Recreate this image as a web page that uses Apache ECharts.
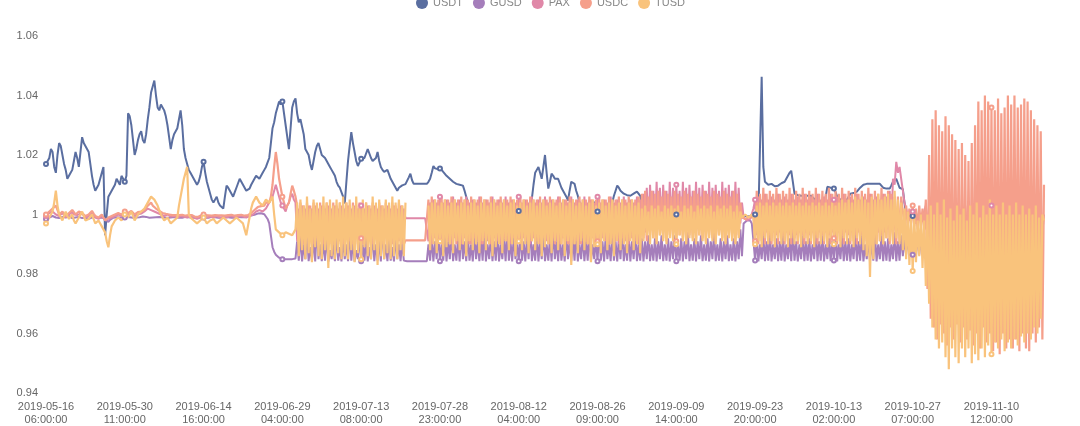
<!DOCTYPE html>
<html>
<head>
<meta charset="utf-8">
<script src="https://cdn.jsdelivr.net/npm/echarts@6/dist/echarts.min.js"></script>
<style>html,body{margin:0;padding:0;background:#fff;}#c{width:1080px;height:426px;}</style>
</head>
<body>
<div id="c"></div>
<script>
// x-axis tick labels (one every 48 sampled points)
const tickLabels = ['2019-05-16 06:00:00','2019-05-30 11:00:00','2019-06-14 16:00:00','2019-06-29 04:00:00','2019-07-13 08:00:00','2019-07-28 23:00:00','2019-08-12 04:00:00','2019-08-26 09:00:00','2019-09-09 14:00:00','2019-09-23 20:00:00','2019-10-13 02:00:00','2019-10-27 07:00:00','2019-11-10 12:00:00'];
const seriesNames = ['USDT','GUSD','PAX','USDC','TUSD'];

const usdt = [
1.017,1.018,1.019,1.022,1.021,1.016,1.014,1.020,1.024,1.023,
1.020,1.017,1.015,1.012,1.013,1.014,1.015,1.018,1.021,1.019,
1.016,1.021,1.026,1.024,1.023,1.022,1.021,1.017,1.013,1.010,
1.008,1.009,1.010,1.012,1.014,1.016,0.993,1.000,1.006,1.007,
1.008,1.009,1.010,1.012,1.011,1.010,1.013,1.012,1.011,1.013,
1.034,1.033,1.030,1.025,1.020,1.022,1.025,1.027,1.028,1.025,
1.024,1.027,1.032,1.036,1.041,1.043,1.045,1.040,1.036,1.035,
1.037,1.036,1.035,1.033,1.030,1.026,1.022,1.025,1.027,1.028,
1.029,1.032,1.035,1.030,1.022,1.019,1.017,1.015,1.014,1.013,
1.012,1.011,1.010,1.011,1.013,1.016,1.0177,1.014,1.011,1.009,
1.007,1.005,1.004,1.005,1.006,1.004,1.003,1.0025,1.002,1.006,
1.0097,1.009,1.008,1.007,1.006,1.0075,1.009,1.0105,1.012,1.011,
1.010,1.009,1.008,1.0083,1.0087,1.010,1.011,1.012,1.013,1.0125,
1.012,1.013,1.014,1.015,1.016,1.0175,1.019,1.024,1.029,1.031,
1.034,1.036,1.038,1.037,1.038,1.034,1.030,1.026,1.022,1.029,
1.036,1.038,1.039,1.034,1.031,1.032,1.032,1.027,1.022,1.021,
1.020,1.017,1.015,1.018,1.021,1.023,1.024,1.022,1.020,1.0195,
1.019,1.018,1.017,1.016,1.015,1.014,1.013,1.011,1.0097,1.009,
1.0087,1.006,1.0037,1.011,1.018,1.023,1.0277,1.024,1.021,1.018,
1.0163,1.0175,1.0187,1.0188,1.019,1.0205,1.022,1.0205,1.019,1.018,
1.0177,1.019,1.021,1.018,1.016,1.015,1.0143,1.0147,1.015,1.0135,
1.012,1.011,1.010,1.009,1.008,1.009,1.0095,1.0098,1.010,1.0102,
1.0103,1.0125,1.0137,1.0115,1.0103,1.0103,1.0103,1.0103,1.0103,1.0103,
1.0103,1.0103,1.0103,1.011,1.012,1.014,1.0163,1.0155,1.015,1.0152,
1.0155,1.015,1.0143,1.0137,1.013,1.0125,1.012,1.0115,1.011,1.0107,
1.0103,1.0102,1.010,1.0098,1.0097,1.008,1.006,1.004,1.0027,1.002,
1.001,1.0015,1.002,1.0018,1.0015,1.0012,1.001,1.0015,1.002,1.0016,
1.0012,1.0015,1.0018,1.0014,1.001,1.0012,1.0015,1.0018,1.002,1.0015,
1.001,1.0012,1.0015,1.0018,1.002,1.0015,1.001,1.0011,1.0012,1.0015,
1.0018,1.0014,1.001,1.0016,1.0025,1.004,1.0053,1.010,1.014,1.015,
1.016,1.014,1.012,1.016,1.020,1.014,1.0087,1.011,1.0137,1.013,
1.012,1.012,1.012,1.0105,1.009,1.008,1.007,1.006,1.0047,1.008,
1.011,1.0107,1.0103,1.008,1.0063,1.004,1.001,1.0005,1.0,1.0003,
1.0005,1.0002,1.0,1.002,1.0043,1.0025,1.001,1.001,1.001,1.0011,
1.0012,1.001,1.001,1.0012,1.0015,1.004,1.0063,1.008,1.0097,1.009,
1.008,1.0075,1.007,1.0068,1.0065,1.0064,1.0063,1.0066,1.007,1.0073,
1.0077,1.007,1.0063,1.003,1.0003,1.0,1.0,1.0002,1.0005,1.0,
1.0,0.9998,0.9998,1.0,1.0002,1.0,1.0,1.0003,1.0005,1.0,
1.0,0.9998,0.9998,1.0,1.0,1.0002,1.0003,1.0,1.0,0.9998,
0.9997,1.0,1.0,1.0002,1.0002,1.0,1.0,1.0,1.0,1.0002,
1.0003,1.0,1.0,0.9998,0.9998,1.0,1.0,1.0002,1.0002,1.0,
1.0,1.0,1.0,0.9998,0.9998,1.0,1.0,1.0002,1.0003,1.0,
1.0,1.0,1.0,1.0,1.0,0.9998,0.9995,0.9994,0.9993,0.9995,
0.9997,1.0,1.0,1.0,1.0,1.0,1.0463,1.016,1.011,1.0105,
1.010,1.0101,1.0103,1.0099,1.0095,1.0096,1.0097,1.0101,1.0105,1.0107,
1.011,1.012,1.013,1.014,1.0147,1.011,1.007,1.0067,1.0065,1.0064,
1.0063,1.0063,1.0063,1.0063,1.0063,1.0063,1.0063,1.0058,1.0053,1.004,
1.003,1.003,1.003,1.003,1.003,1.006,1.0093,1.0091,1.009,1.0088,
1.0087,1.0075,1.006,1.0055,1.005,1.005,1.005,1.005,1.005,1.006,
1.007,1.0071,1.0072,1.0075,1.0077,1.0083,1.009,1.0095,1.010,1.0102,
1.0103,1.0103,1.0103,1.0103,1.0103,1.0103,1.0103,1.0103,1.0103,1.0097,
1.009,1.0088,1.0087,1.0087,1.0087,1.0098,1.011,1.0115,1.012,1.0105,
1.009,1.0088,1.0085,1.004,1.0,1.0,1.0,1.0,0.9995,0.9998,
1.0,0.9995,0.9995,1.0,1.0,1.0,null,null,null,null,
null,null,null,null,null,null,null,null,null,null,
null,null,null,null,null,null,null,null,null,null,
null,null,null,null,null,null,null,null,null,null,
null,null,null,null,null,null,null,null,null,null,
null,null,null,null,null,null,null,null,null,null,
null,null,null,null,null,null,null,null,null,null,
null,null,null,null,null,null,null,null,null
];

const gusd = [
0.9985,0.9988,0.999,0.9993,0.9995,0.9992,0.999,0.9989,0.9988,0.999,
0.9992,0.9991,0.999,0.9993,0.9995,0.9991,0.9988,0.9989,0.999,0.9991,
0.9992,0.999,0.9988,0.9989,0.999,0.9987,0.9985,0.9988,0.999,0.9991,
0.9992,0.999,0.9988,0.9989,0.999,0.9987,0.9985,0.998,0.9975,0.9982,
0.9988,0.9989,0.999,0.9991,0.9992,0.999,0.9988,0.9989,0.999,0.9992,
0.9993,0.9991,0.999,0.9989,0.9988,0.999,0.9992,0.9991,0.999,0.9993,
0.9995,0.9992,0.999,0.9989,0.9988,0.999,0.9992,0.9991,0.999,0.9992,
0.9993,0.9991,0.999,0.9989,0.9988,0.9989,0.999,0.9991,0.9992,0.9991,
0.999,0.9989,0.9988,0.9989,0.999,0.9992,0.9993,0.9991,0.999,0.9989,
0.9988,0.9989,0.999,0.9991,0.9992,0.9991,0.999,0.9989,0.9988,0.9989,
0.999,0.9992,0.9993,0.9991,0.999,0.9989,0.9988,0.9989,0.999,0.9991,
0.9992,0.9991,0.999,0.9989,0.9988,0.9989,0.999,0.9992,0.9993,0.9991,
0.999,0.9991,0.9992,0.9994,0.9995,0.9997,0.9998,0.9999,1.0,1.0003,
1.0005,1.0004,1.0003,1.0001,1.0,0.9985,0.997,0.993,0.989,0.9875,
0.9865,0.986,0.9855,0.9852,0.985,0.985,0.985,0.985,0.985,0.985,
0.985,0.985,0.9852,0.991,0.9845,0.993,0.9842,0.990,0.985,0.994,
0.9843,0.989,0.9845,0.992,0.9842,0.996,0.985,0.990,0.9843,0.991,
0.9845,0.993,0.9842,0.988,0.985,0.990,0.9843,0.994,0.9845,0.989,
0.9842,0.992,0.985,0.990,0.9843,0.995,0.9845,0.991,0.9842,0.988,
0.985,0.993,0.9843,0.990,0.9845,0.992,0.9842,0.989,0.985,0.994,
0.9843,0.990,0.9845,0.991,0.9842,0.997,0.985,0.990,0.9843,0.992,
0.9845,0.989,0.9842,0.993,0.985,0.990,0.9843,0.991,0.9845,0.9843,
0.9843,0.9843,0.9843,0.9843,0.9843,0.9843,0.9843,0.9843,0.9843,0.9843,
0.9843,0.9843,0.9843,0.990,0.9845,0.992,0.9842,0.991,0.985,0.994,
0.9843,0.990,0.9845,0.993,0.9842,0.991,0.985,0.994,0.9843,0.990,
0.9845,0.992,0.9842,0.995,0.985,0.991,0.9843,0.993,0.9845,0.990,
0.9842,0.994,0.985,0.991,0.9843,0.992,0.9845,0.995,0.9842,0.990,
0.985,0.993,0.9843,0.991,0.9845,0.994,0.9842,0.990,0.985,0.992,
0.9843,0.995,0.9845,0.991,0.9842,0.993,0.985,0.990,0.9843,0.994,
0.9845,0.991,0.9842,0.992,0.985,0.996,0.9843,0.990,0.9845,0.993,
0.9842,0.991,0.985,0.994,0.9843,0.990,0.9845,0.992,0.9842,0.995,
0.985,0.991,0.9843,0.993,0.9845,0.990,0.9842,0.994,0.985,0.991,
0.9843,0.992,0.9845,0.995,0.9842,0.990,0.985,0.993,0.9843,0.991,
0.9845,0.994,0.9842,0.990,0.985,0.992,0.9843,0.995,0.9845,0.991,
0.9842,0.993,0.985,0.990,0.9843,0.994,0.9845,0.991,0.9842,0.992,
0.985,0.995,0.9843,0.990,0.9845,0.993,0.9842,0.991,0.985,0.994,
0.9843,0.990,0.9845,0.992,0.9842,0.991,0.985,0.993,0.9843,0.990,
0.9845,0.992,0.9842,0.991,0.985,0.993,0.9843,0.990,0.9845,0.992,
0.9842,0.991,0.985,0.993,0.9843,0.990,0.9845,0.992,0.9842,0.991,
0.985,0.994,0.9843,0.990,0.9845,0.992,0.9842,0.991,0.985,0.993,
0.9843,0.990,0.9845,0.992,0.9842,0.991,0.985,0.994,0.9843,0.990,
0.9845,0.992,0.9842,0.991,0.985,0.993,0.9843,0.990,0.9845,0.992,
0.9842,0.991,0.985,0.995,0.986,0.997,0.9975,0.998,0.9985,0.998,
0.997,0.991,0.9845,0.992,0.9842,0.990,0.985,0.993,0.9843,0.991,
0.9845,0.994,0.9842,0.990,0.985,0.992,0.9843,0.991,0.9845,0.993,
0.9842,0.990,0.985,0.992,0.9843,0.994,0.9845,0.991,0.9842,0.990,
0.985,0.993,0.9843,0.991,0.9845,0.992,0.9842,0.990,0.985,0.994,
0.9843,0.991,0.9845,0.993,0.9842,0.990,0.985,0.992,0.9843,0.991,
0.9845,0.994,0.9842,0.990,0.985,0.993,0.9843,0.991,0.9845,0.992,
0.9842,0.990,0.985,0.994,0.9843,0.991,0.9845,0.993,0.9842,0.990,
0.985,0.992,0.9843,0.991,0.9845,0.994,0.9842,0.990,0.985,0.993,
0.9843,0.991,0.9845,0.992,0.9842,0.990,0.985,0.994,0.9843,0.991,
0.9845,0.993,0.986,0.992,0.9865,0.993,0.986,0.992,0.9865,0.991,
0.986,0.993,0.9865,0.992,0.987,0.991,null,null,null,null,
null,null,null,null,null,null,null,null,null,null,
null,null,null,null,null,null,null,null,null,null,
null,null,null,null,null,null,null,null,null,null,
null,null,null,null,null,null,null,null,null,null,
null,null,null,null,null,null,null,null,null,null,
null,null,null,null,null,null,null,null,null,null,
null,null,null,null,null,null,null,null,null
];

const pax = [
0.9995,1.0,1.0005,1.0008,1.001,1.0005,1.0,0.9998,0.9995,1.0,
1.0005,0.9998,0.999,0.9995,1.0,1.0004,1.0008,1.0,0.9995,0.9998,
1.0,1.0003,1.0005,0.9998,0.999,0.9993,0.9995,0.9999,1.0003,0.9997,
0.999,0.9988,0.9985,0.999,0.9995,0.9988,0.998,0.9982,0.9985,0.9988,
0.999,0.9993,0.9995,0.9998,1.0,0.9998,0.9995,1.0,1.0005,1.0003,
1.0,1.0004,1.0008,1.0002,0.9995,0.9998,1.0,1.0002,1.0003,1.0006,
1.001,1.0015,1.002,1.0018,1.0015,1.0012,1.001,1.0008,1.0005,1.0002,
1.0,0.9998,0.9995,0.9998,1.0,0.9996,0.9993,0.9994,0.9995,0.9993,
0.999,0.9993,0.9995,0.9994,0.9992,0.9991,0.999,0.9993,0.9995,0.9992,
0.999,0.9988,0.9985,0.9988,0.999,0.9993,0.9995,0.9992,0.999,0.9991,
0.9993,0.9991,0.999,0.9993,0.9995,0.9992,0.999,0.9991,0.9992,0.9991,
0.999,0.9993,0.9995,0.9994,0.9993,0.9991,0.999,0.9993,0.9995,0.9994,
0.9993,0.9991,0.999,0.9992,0.9995,0.9998,1.0,1.0005,1.001,1.0012,
1.0015,1.0012,1.001,1.0015,1.002,1.003,1.004,1.005,1.006,1.008,
1.010,1.008,1.006,1.004,1.003,1.002,1.001,1.003,1.004,1.006,
1.007,1.005,1.004,0.991,1.002,0.992,1.003,0.990,1.002,0.992,
1.003,0.991,1.002,0.990,1.003,0.992,1.002,0.991,1.003,0.990,
1.002,0.992,1.003,0.991,1.002,0.990,1.003,0.992,1.002,0.991,
1.003,0.990,1.002,0.992,1.003,0.991,1.002,0.990,1.003,0.992,
1.002,0.991,1.003,0.990,1.002,0.992,1.003,0.991,1.002,0.990,
1.003,0.992,1.002,0.991,1.003,0.990,1.002,0.992,1.003,0.991,
1.002,0.990,1.003,0.992,1.002,0.991,1.003,0.990,1.002,0.9987,
0.9987,0.9987,0.9987,0.9987,0.9987,0.9987,0.9987,0.9987,0.9987,0.9987,
0.9987,0.9987,0.9987,0.991,1.004,0.990,1.005,0.992,1.004,0.991,
1.006,0.990,1.004,0.992,1.005,0.991,1.004,0.990,1.006,0.992,
1.004,0.991,1.005,0.990,1.004,0.992,1.006,0.991,1.004,0.990,
1.005,0.992,1.004,0.991,1.006,0.990,1.004,0.992,1.005,0.991,
1.004,0.990,1.006,0.992,1.004,0.991,1.005,0.990,1.004,0.992,
1.006,0.991,1.004,0.990,1.005,0.992,1.004,0.991,1.006,0.990,
1.004,0.992,1.005,0.991,1.004,0.990,1.006,0.992,1.004,0.991,
1.005,0.990,1.004,0.992,1.006,0.991,1.004,0.990,1.005,0.992,
1.004,0.991,1.006,0.990,1.004,0.992,1.005,0.991,1.004,0.990,
1.006,0.992,1.004,0.991,1.005,0.990,1.004,0.992,1.006,0.991,
1.004,0.990,1.005,0.992,1.004,0.991,1.006,0.990,1.004,0.992,
1.005,0.991,1.004,0.990,1.006,0.992,1.004,0.991,1.005,0.990,
1.004,0.992,1.006,0.991,1.004,0.990,1.005,0.992,1.004,0.991,
1.006,0.990,1.005,0.995,1.007,0.994,1.009,0.995,1.010,0.996,
1.008,0.995,1.011,0.996,1.009,0.995,1.010,0.997,1.008,0.995,
1.011,0.996,1.009,0.995,1.010,0.997,1.008,0.995,1.011,0.996,
1.009,0.995,1.010,0.997,1.008,0.995,1.011,0.996,1.009,0.995,
1.010,0.997,1.008,0.995,1.011,0.996,1.009,0.995,1.010,0.997,
1.008,0.995,1.011,0.996,1.009,0.995,1.010,0.997,1.008,0.995,
1.011,0.996,1.009,0.997,1.004,0.999,0.9985,0.998,0.998,0.9985,
0.999,1.002,1.005,0.993,1.006,0.994,1.005,0.993,1.007,0.994,
1.005,0.993,1.006,0.994,1.005,0.993,1.007,0.994,1.005,0.993,
1.006,0.994,1.005,0.993,1.007,0.994,1.005,0.993,1.006,0.994,
1.005,0.993,1.007,0.994,1.005,0.993,1.006,0.994,1.005,0.993,
1.007,0.994,1.005,0.993,1.006,0.994,1.005,0.993,1.007,0.994,
1.005,0.993,1.006,0.994,1.005,0.993,1.007,0.994,1.005,0.993,
1.006,0.994,1.005,0.993,1.007,0.994,1.005,0.993,1.006,0.994,
1.005,0.993,1.007,0.994,1.005,0.993,1.006,0.994,1.005,0.993,
1.007,0.994,1.006,0.995,1.008,0.996,1.012,1.010,1.0177,1.014,
1.016,1.012,1.008,1.004,1.002,0.999,0.998,1.0,1.001,0.998,
0.997,1.0,1.0,0.999,0.998,1.001,1.003,0.993,1.003,0.993,
1.003,0.993,1.002,0.994,1.003,0.993,1.002,0.994,1.003,0.993,
1.002,0.994,1.003,0.993,1.002,0.994,1.003,0.993,1.002,0.994,
1.003,0.993,1.002,0.994,1.003,0.993,1.002,0.994,1.003,0.993,
1.002,0.994,1.003,0.993,1.002,0.994,1.003,0.993,1.002,0.994,
1.003,0.993,1.002,0.994,1.003,0.993,1.002,0.994,1.003,0.993,
1.002,0.994,1.003,0.993,1.002,0.994,1.003,0.993,1.002,0.994,
1.003,0.993,1.002,0.994,1.003,0.993,1.002,0.994,1.0
];

const usdc = [
1.0,1.0005,1.001,1.0015,1.002,1.0025,1.003,1.0015,1.0,1.0005,
1.001,1.0002,0.9995,1.0,1.0005,1.001,1.0015,1.0008,1.0,1.0005,
1.001,1.0008,1.0005,1.0,0.9995,0.9998,1.0,1.0006,1.0012,1.0003,
0.9995,0.9992,0.999,0.9995,1.0,0.999,0.998,0.9985,0.999,0.9993,
0.9995,0.9998,1.0,1.0003,1.0005,1.0002,1.0,1.0005,1.001,1.0008,
1.0005,1.0008,1.0012,1.0006,1.0,1.0004,1.0008,1.001,1.001,1.0012,
1.0015,1.002,1.003,1.0035,1.004,1.003,1.0025,1.002,1.0015,1.0012,
1.001,1.0005,1.0,1.0002,1.0005,1.0,0.9995,0.9998,1.0,0.9998,
0.9995,0.9998,1.0,0.9999,0.9998,0.9996,0.9995,0.9998,1.0,0.9998,
0.9995,0.9992,0.999,0.9993,0.9995,0.9998,1.0,0.9998,0.9995,0.9997,
0.9998,0.9996,0.9995,0.9998,1.0,0.9997,0.9995,0.9997,0.9998,0.9996,
0.9995,0.9998,1.0,0.9999,0.9998,0.9996,0.9995,0.9998,1.0,0.9999,
0.9998,0.9996,0.9995,0.9998,1.0,1.0005,1.001,1.0015,1.002,1.0025,
1.003,1.0028,1.0025,1.003,1.004,1.0042,1.004,1.006,1.010,1.016,
1.021,1.017,1.012,1.009,1.006,1.004,1.002,1.003,1.004,1.007,
1.0097,1.008,1.006,1.003,0.990,1.004,0.991,1.003,0.990,1.004,
0.992,1.003,0.990,1.004,0.991,1.003,0.990,1.004,0.992,1.003,
0.990,1.004,0.991,1.003,0.990,1.004,0.992,1.003,0.990,1.004,
0.991,1.003,0.990,1.004,0.992,1.003,0.990,1.004,0.991,1.003,
0.990,1.004,0.992,1.003,0.990,1.004,0.991,1.003,0.990,1.004,
0.992,1.003,0.990,1.004,0.991,1.003,0.990,1.004,0.992,1.003,
0.990,1.004,0.991,1.003,0.990,1.004,0.992,1.003,0.990,0.9913,
0.9913,0.9913,0.9913,0.9913,0.9913,0.9913,0.9913,0.9913,0.9913,0.9913,
0.9913,0.9913,0.9913,1.005,0.990,1.006,0.992,1.005,0.990,1.005,
0.991,1.006,0.990,1.005,0.992,1.005,0.990,1.006,0.991,1.005,
0.990,1.005,0.992,1.006,0.990,1.005,0.991,1.005,0.990,1.006,
0.992,1.005,0.990,1.005,0.991,1.006,0.990,1.005,0.992,1.005,
0.990,1.006,0.991,1.005,0.990,1.005,0.992,1.006,0.990,1.005,
0.991,1.005,0.990,1.006,0.992,1.005,0.990,1.005,0.991,1.006,
0.990,1.005,0.992,1.005,0.990,1.006,0.991,1.005,0.990,1.005,
0.992,1.006,0.990,1.005,0.991,1.005,0.990,1.006,0.992,1.005,
0.990,1.005,0.991,1.006,0.990,1.005,0.992,1.005,0.990,1.006,
0.991,1.005,0.990,1.005,0.992,1.006,0.990,1.005,0.991,1.005,
0.990,1.006,0.992,1.005,0.990,1.005,0.991,1.006,0.990,1.005,
0.992,1.005,0.990,1.006,0.991,1.005,0.990,1.005,0.992,1.006,
0.990,1.005,0.991,1.005,0.990,1.006,0.992,1.005,0.990,1.005,
0.991,1.006,0.990,1.007,0.992,1.008,0.991,1.006,0.993,1.008,
0.992,1.007,0.991,1.008,0.993,1.006,0.992,1.008,0.991,1.007,
0.993,1.006,0.992,1.008,0.991,1.007,0.993,1.006,0.992,1.008,
0.991,1.007,0.993,1.006,0.992,1.008,0.991,1.007,0.993,1.006,
0.992,1.008,0.991,1.007,0.993,1.006,0.992,1.008,0.991,1.007,
0.993,1.006,0.992,1.008,0.991,1.007,0.993,1.006,0.992,1.008,
0.991,1.007,0.993,1.004,0.999,0.9985,0.9985,0.999,0.999,0.9985,
0.999,1.0,0.991,1.008,0.990,1.007,0.991,1.009,0.990,1.007,
0.992,1.008,0.990,1.007,0.991,1.009,0.990,1.007,0.992,1.008,
0.990,1.007,0.991,1.009,0.990,1.007,0.992,1.008,0.990,1.007,
0.991,1.009,0.990,1.007,0.992,1.008,0.990,1.007,0.991,1.009,
0.990,1.007,0.992,1.008,0.990,1.007,0.991,1.009,0.990,1.007,
0.992,1.008,0.990,1.007,0.991,1.009,0.990,1.007,0.992,1.008,
0.990,1.007,0.991,1.009,0.990,1.007,0.992,1.008,0.990,1.007,
0.991,1.009,0.990,1.007,0.992,1.008,0.990,1.007,0.991,1.009,
0.990,1.007,0.992,1.008,0.990,1.007,0.991,1.006,0.990,1.006,
0.991,1.006,1.001,0.997,1.003,0.996,1.002,0.997,1.003,0.996,
1.002,0.995,1.003,0.996,1.002,0.995,1.005,0.975,1.020,0.965,
1.032,0.962,1.035,0.958,1.030,0.963,1.028,0.960,1.033,0.956,
1.030,0.962,1.027,0.958,1.025,0.963,1.022,0.957,1.024,0.962,
1.020,0.958,1.018,0.961,1.024,0.956,1.030,0.960,1.038,0.955,
1.035,0.962,1.040,0.957,1.038,0.960,1.036,0.954,1.035,0.957,
1.039,0.953,1.034,0.960,1.036,0.955,1.040,0.958,1.037,0.955,
1.040,0.958,1.036,0.954,1.037,0.960,1.039,0.955,1.038,0.954,
1.035,0.960,1.032,0.957,1.030,0.962,1.028,0.958,1.010
];

const tusd = [
0.997,0.998,0.999,1.0,1.001,1.004,1.008,1.003,1.0,0.999,
0.998,0.9995,1.001,0.9995,0.9985,0.999,1.0,0.998,0.997,0.998,
0.999,1.0,1.001,0.9995,0.998,0.998,0.9985,0.999,1.0,0.9985,
0.997,0.9975,0.998,0.997,0.996,0.995,0.994,0.991,0.989,0.993,
0.996,0.997,0.998,0.9985,0.999,0.9985,0.998,0.999,1.0,0.9995,
0.999,1.0,1.001,0.9995,0.998,0.999,1.0,1.0005,1.001,1.0015,
1.002,1.003,1.004,1.005,1.006,1.0055,1.005,1.004,1.003,1.0015,
1.0,0.999,0.998,0.9985,0.999,0.998,0.997,0.9975,0.998,0.9985,
0.999,1.003,1.006,1.009,1.012,1.014,1.016,1.0,0.999,0.9985,
0.998,0.9975,0.997,0.9975,0.998,0.9985,0.999,0.998,0.997,0.9975,
0.998,0.9982,0.9985,0.998,0.997,0.9975,0.998,0.9985,0.999,0.9985,
0.998,0.9975,0.997,0.9975,0.998,0.9985,0.999,0.9985,0.998,0.9975,
0.997,0.995,0.993,0.996,0.999,1.002,1.004,1.005,1.006,1.005,
1.004,1.0035,1.003,1.004,1.005,1.0045,1.004,1.005,1.006,1.0,
0.995,0.9945,0.994,0.9935,0.993,0.9935,0.994,0.994,0.9935,0.993,
0.993,0.994,0.995,1.004,0.986,1.005,0.988,1.003,0.985,1.006,
0.987,1.002,0.984,1.005,0.989,1.004,0.986,1.003,0.985,1.006,
0.988,1.004,0.982,1.005,0.986,1.003,0.985,1.005,0.987,1.004,
0.985,1.006,0.986,1.004,0.985,1.005,0.988,1.003,0.984,1.006,
0.987,1.002,0.985,1.005,0.989,1.004,0.986,1.003,0.985,1.006,
0.988,1.004,0.983,1.005,0.986,1.003,0.985,1.005,0.987,1.004,
0.985,1.006,0.986,1.004,0.985,1.005,0.988,1.003,0.986,1.004,
null,null,null,null,null,null,null,null,null,null,
null,null,null,1.003,0.988,1.004,0.990,1.005,0.987,1.003,
0.991,1.004,0.986,1.005,0.989,1.003,0.990,1.004,0.987,1.005,
0.991,1.003,0.988,1.004,0.990,1.005,0.986,1.003,0.991,1.004,
0.988,1.005,0.990,1.003,0.987,1.004,0.991,1.005,0.988,1.003,
0.990,1.004,0.986,1.005,0.989,1.003,0.990,1.004,0.987,1.005,
0.991,1.003,0.988,1.004,0.990,1.005,0.986,1.003,0.991,1.004,
0.988,1.005,0.990,1.003,0.987,1.004,0.991,1.005,0.988,1.003,
0.990,1.004,0.986,1.005,0.989,1.003,0.990,1.004,0.987,1.005,
0.991,1.003,0.988,1.004,0.990,1.005,0.986,1.003,0.991,1.004,
0.983,1.005,0.990,1.003,0.987,1.004,0.991,1.005,0.988,1.003,
0.990,1.004,0.984,1.005,0.989,1.003,0.990,1.004,0.987,1.005,
0.991,1.003,0.988,1.004,0.990,1.005,0.986,1.003,0.991,1.004,
0.988,1.005,0.990,1.003,0.987,1.004,0.991,1.005,0.988,1.003,
0.990,1.004,0.987,1.002,0.991,1.003,0.993,1.001,0.990,1.003,
0.992,1.002,0.990,1.003,0.993,1.001,0.991,1.003,0.990,1.002,
0.992,1.003,0.991,1.002,0.990,1.003,0.993,1.001,0.991,1.003,
0.990,1.002,0.992,1.003,0.991,1.001,0.990,1.003,0.993,1.002,
0.991,1.003,0.990,1.002,0.992,1.003,0.991,1.001,0.990,1.003,
0.993,1.002,0.991,1.003,0.990,1.002,0.992,1.003,0.991,1.001,
0.990,1.003,0.992,1.001,0.999,0.9995,1.0,0.9995,0.999,0.9995,
1.0,0.999,0.990,1.003,0.991,1.004,0.989,1.003,0.992,1.004,
0.990,1.003,0.991,1.004,0.989,1.003,0.992,1.004,0.990,1.003,
0.991,1.004,0.989,1.003,0.992,1.004,0.990,1.003,0.991,1.004,
0.989,1.003,0.992,1.004,0.990,1.003,0.991,1.004,0.989,1.003,
0.992,1.004,0.990,1.003,0.991,1.004,0.989,1.003,0.992,1.004,
0.990,1.003,0.991,1.004,0.989,1.005,0.992,1.004,0.990,1.005,
0.991,1.004,0.989,1.006,0.992,1.005,0.990,1.006,0.988,1.005,
0.986,1.004,0.979,1.006,0.985,1.005,0.990,1.007,0.991,1.005,
0.990,1.006,0.992,1.007,0.991,1.005,0.990,1.008,0.992,1.005,
0.990,1.004,0.988,1.002,0.985,1.001,0.983,1.0,0.981,0.999,
0.984,0.998,0.986,1.0,0.982,0.998,0.976,1.0,0.970,1.003,
0.962,1.0,0.958,1.004,0.955,1.0,0.957,1.005,0.952,0.999,
0.948,1.002,0.955,0.998,0.952,1.003,0.950,1.0,0.955,1.002,
0.952,0.998,0.955,1.003,0.950,1.0,0.953,1.004,0.951,0.999,
0.955,1.003,0.952,1.0,0.956,1.005,0.953,1.0,0.957,1.003,
0.955,1.0,0.958,1.004,0.954,1.0,0.957,1.003,0.955,1.0,
0.958,1.004,0.956,1.0,0.959,1.003,0.957,1.0,0.960,1.002,
0.958,1.0,0.962,1.003,0.960,0.999,0.965,1.0,0.998
];

const colors = ['#5a6ea0','#a57ebb','#e088a8','#f59f8b','#f9c37c'];
const lineWidths = [2, 2, 2, 2.2, 2.2];

// category axis: a tick label every 48 sampled points
const categories = usdt.map((v, i) => (i % 48 === 0 ? tickLabels[i / 48] : ''));
const allValues = [usdt, gusd, pax, usdc, tusd];

const chart = echarts.init(document.getElementById('c'), null, {renderer: 'canvas'});
chart.setOption({
  animation: false,
  color: colors,
  textStyle: {fontFamily: 'Liberation Sans, Arial, sans-serif'},
  legend: {
    data: seriesNames,
    icon: 'circle',
    itemWidth: 12,
    itemHeight: 12,
    itemGap: 10,
    left: 411,
    top: -8,
    textStyle: {color: '#888', fontSize: 11}
  },
  grid: {left: 46, right: 36, top: 36, bottom: 30},
  xAxis: {
    type: 'category',
    data: categories,
    boundaryGap: false,
    axisLine: {show: false},
    axisTick: {show: false},
    splitLine: {show: false},
    axisLabel: {
      interval: 47,
      color: '#666',
      fontSize: 11,
      lineHeight: 13,
      margin: 7,
      formatter: v => v.replace(' ', '\n')
    }
  },
  yAxis: {
    type: 'value',
    min: 0.94,
    max: 1.06,
    interval: 0.02,
    axisLine: {show: false},
    axisTick: {show: false},
    splitLine: {show: false},
    axisLabel: {color: '#666', fontSize: 11, margin: 8}
  },
  series: seriesNames.map((name, k) => ({
    name: name,
    type: 'line',
    data: allValues[k],
    symbol: 'emptyCircle',
    symbolSize: 4,
    lineStyle: {width: lineWidths[k], join: 'bevel'},
    connectNulls: false
  }))
});
</script>
</body>
</html>
